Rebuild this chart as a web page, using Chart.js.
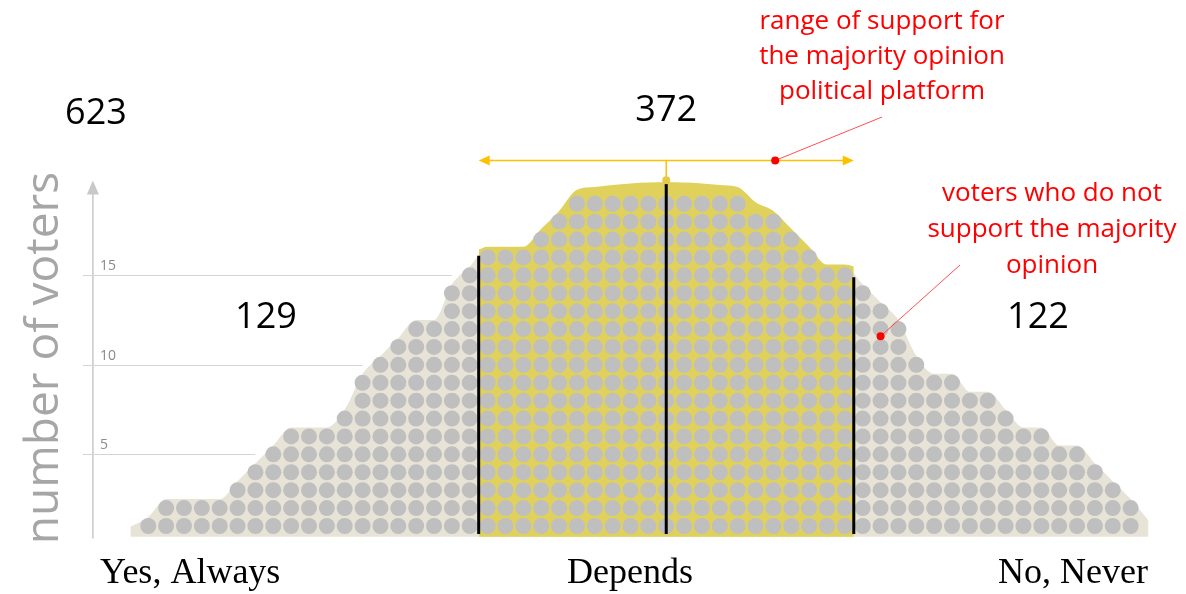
<!DOCTYPE html>
<html>
<head>
<meta charset="utf-8">
<script src="https://cdn.jsdelivr.net/npm/chart.js@4.4.1/dist/chart.umd.min.js"></script>
<style>
  html, body { margin: 0; padding: 0; background: #fff; }
  #wrap { width: 1186px; height: 594px; }
</style>
</head>
<body>
<div id="wrap"><canvas id="voters" width="1186" height="594"></canvas></div>
<script>
// --- data: dots per column in each section ---
const categories = ['Yes, Always', 'Depends', 'No, Never'];
const leftCounts = [1, 2, 2, 2, 2, 3, 4, 5, 6, 6, 6, 7, 9, 10, 11, 12, 12, 14, 15];
const middleCounts = [16, 16, 16, 17, 18, 19, 19, 19, 19, 19, 19, 19, 19, 19, 19, 18, 18, 17, 16, 15, 15];
const rightCounts = [14, 13, 12, 10, 9, 9, 8, 8, 7, 6, 6, 5, 5, 4, 3, 2];
const sectionLabels = ['129', '372', '122'];
const totalLabel = '623';
const yTicks = [5, 10, 15];

const heights = leftCounts.concat(middleCounts, rightCounts);
const nLeft = leftCounts.length;
const nMid = middleCounts.length;
const centerCol = nLeft + Math.floor(nMid / 2);
const peak = heights[centerCol] + 1.2;

// one point per voter
const dots = [];
heights.forEach((h, col) => {
    for (let r = 1; r <= h; r++) dots.push({ x: col, y: r });
});

// envelope round all dots (beige) and round the middle section (yellow)
const beigeEdge = [{ x: -1, y: 0.95 }].concat(
    heights.map((h, col) => ({ x: col, y: h + 0.5 })),
    [{ x: heights.length, y: 1.3 }]
);
const yellowEdge = [{ x: nLeft - 0.5, y: middleCounts[0] + 0.45 }];
middleCounts.forEach((h, i) => {
    const col = nLeft + i;
    const d = Math.abs(col - centerCol);
    // gentle dome over the flat top
    const dome = d < 6 ? (peak - h - 0.6) * (1 - (d / 6) * (d / 6)) : 0;
    yellowEdge.push({ x: col, y: h + 0.6 + dome });
});
yellowEdge.push({ x: nLeft + nMid - 0.5, y: middleCounts[nMid - 1] + 0.5 });

const baseY = 0.4;
const dividers = [
    { x: nLeft - 0.5, top: middleCounts[0] + 0.1 },
    { x: centerCol, top: peak },
    { x: nLeft + nMid - 0.5, top: middleCounts[nMid - 1] - 0.1 }
];
const dividerSets = dividers.map(d => ({
    data: [{ x: d.x, y: baseY + 0.15 }, { x: d.x, y: d.top }],
    showLine: true, borderColor: '#000', borderWidth: 3, pointRadius: 0, order: 0
}));

const RED = '#ff0000';
const GOLD = '#ffc000';

function arrowHead(ctx, x, y, dir) {
    ctx.beginPath();
    ctx.moveTo(x, y);
    ctx.lineTo(x - dir * 11, y - 5);
    ctx.lineTo(x - dir * 11, y + 5);
    ctx.closePath();
    ctx.fill();
}

const decorPlugin = {
    id: 'decor',
    beforeDatasetsDraw(chart) {
        const { ctx, scales: { x, y } } = chart;
        ctx.save();
        // y axis with arrow
        const ax = x.getPixelForValue(-3.1);
        ctx.strokeStyle = '#c8c8c8';
        ctx.fillStyle = '#c8c8c8';
        ctx.lineWidth = 1.5;
        ctx.beginPath();
        ctx.moveTo(ax, y.getPixelForValue(baseY - 0.1));
        ctx.lineTo(ax, y.getPixelForValue(19.9));
        ctx.stroke();
        const tip = y.getPixelForValue(20.3);
        ctx.beginPath();
        ctx.moveTo(ax, tip);
        ctx.lineTo(ax - 6, tip + 14);
        ctx.lineTo(ax + 6, tip + 14);
        ctx.closePath();
        ctx.fill();
        // grid lines stop short of the dots
        ctx.lineWidth = 1;
        ctx.strokeStyle = '#d4d4d4';
        ctx.font = '14px "Open Sans"';
        ctx.textBaseline = 'bottom';
        ctx.textAlign = 'left';
        yTicks.forEach(t => {
            const py = Math.round(y.getPixelForValue(t)) + 0.5;
            const first = heights.findIndex(h => h >= t);
            const end = x.getPixelForValue(first) - 18;
            ctx.beginPath();
            ctx.moveTo(ax - 10, py);
            ctx.lineTo(end, py);
            ctx.stroke();
            ctx.fillStyle = '#8a8a8a';
            ctx.fillText(String(t), ax + 7, py - 2);
        });
        ctx.restore();
    },
    afterDatasetsDraw(chart) {
        const { ctx, scales: { x, y } } = chart;
        ctx.save();
        // range arrow over the middle section
        const x1 = x.getPixelForValue(dividers[0].x);
        const x2 = x.getPixelForValue(dividers[2].x);
        const cx = x.getPixelForValue(centerCol);
        const ay = Math.round(y.getPixelForValue(peak + 1.25)) + 0.5;
        const py = y.getPixelForValue(peak);
        ctx.strokeStyle = GOLD;
        ctx.fillStyle = GOLD;
        ctx.lineWidth = 1.5;
        ctx.beginPath();
        ctx.moveTo(x1 + 4, ay);
        ctx.lineTo(x2 - 4, ay);
        ctx.moveTo(cx, ay);
        ctx.lineTo(cx, py);
        ctx.stroke();
        arrowHead(ctx, x1, ay, -1);
        arrowHead(ctx, x2, ay, 1);
        ctx.fillStyle = '#e8c84a';
        ctx.beginPath();
        ctx.arc(cx, py - 2, 4, 0, Math.PI * 2);
        ctx.fill();

        // red callouts
        ctx.strokeStyle = '#ff5050';
        ctx.fillStyle = RED;
        ctx.lineWidth = 1;
        const d1 = { x: x.getPixelForValue(35.1), y: ay };
        ctx.beginPath();
        ctx.moveTo(d1.x, d1.y);
        ctx.lineTo(882, 117);
        ctx.stroke();
        ctx.beginPath();
        ctx.arc(d1.x, d1.y, 4, 0, Math.PI * 2);
        ctx.fill();
        const d2 = { x: x.getPixelForValue(nLeft + nMid + 1), y: y.getPixelForValue(11.6) };
        ctx.beginPath();
        ctx.moveTo(d2.x, d2.y);
        ctx.lineTo(960, 265);
        ctx.stroke();
        ctx.beginPath();
        ctx.arc(d2.x, d2.y, 4, 0, Math.PI * 2);
        ctx.fill();

        ctx.textAlign = 'center';
        ctx.textBaseline = 'middle';
        ctx.font = '26px "Open Sans"';
        ['range of support for', 'the majority opinion', 'political platform']
            .forEach((s, i) => ctx.fillText(s, 882, 22 + i * 35));
        ['voters who do not', 'support the majority', 'opinion']
            .forEach((s, i) => ctx.fillText(s, 1052, 194 + i * 36));

        // counts
        ctx.fillStyle = '#000';
        ctx.font = '36px "Open Sans"';
        ctx.fillText(totalLabel, 96, 114);
        ctx.fillText(sectionLabels[1], cx, 111);
        ctx.fillText(sectionLabels[0], 266, 318);
        ctx.fillText(sectionLabels[2], 1038, 318);

        // category labels
        ctx.font = '36px "Liberation Serif"';
        ctx.textBaseline = 'alphabetic';
        ctx.textAlign = 'left';
        ctx.fillText(categories[0], 100, 583);
        ctx.textAlign = 'center';
        ctx.fillText(categories[1], 630, 583);
        ctx.textAlign = 'right';
        ctx.fillText(categories[2], 1148, 583);

        // axis title
        ctx.save();
        ctx.translate(45, 358);
        ctx.rotate(-Math.PI / 2);
        ctx.fillStyle = '#a6a6a6';
        ctx.font = '46px "Open Sans"';
        ctx.textAlign = 'center';
        ctx.textBaseline = 'middle';
        ctx.fillText('number of voters', 0, 0);
        ctx.restore();
        ctx.restore();
    }
};

new Chart(document.getElementById('voters'), {
    type: 'scatter',
    data: {
        datasets: dividerSets.concat([
            {
                data: dots, pointRadius: 8, pointHoverRadius: 8,
                backgroundColor: '#bfbfbf', borderWidth: 0, order: 1
            },
            {
                data: yellowEdge, showLine: true, cubicInterpolationMode: 'monotone', pointRadius: 0,
                borderWidth: 0, borderColor: 'rgba(0,0,0,0)',
                backgroundColor: '#dfd15b', fill: { value: baseY }, order: 2
            },
            {
                data: beigeEdge, showLine: true, cubicInterpolationMode: 'monotone', pointRadius: 0,
                borderWidth: 0, borderColor: 'rgba(0,0,0,0)',
                backgroundColor: '#e7e3d6', fill: { value: baseY }, order: 3
            }
        ])
    },
    options: {
        responsive: false,
        animation: false,
        layout: { padding: 0, autoPadding: false },
        plugins: { legend: { display: false }, tooltip: { enabled: false } },
        scales: {
            x: { type: 'linear', min: -8.3, max: 58.1, display: false },
            y: { type: 'linear', min: -2.8, max: 30.38, display: false }
        }
    },
    plugins: [decorPlugin]
});
</script>
</body>
</html>
